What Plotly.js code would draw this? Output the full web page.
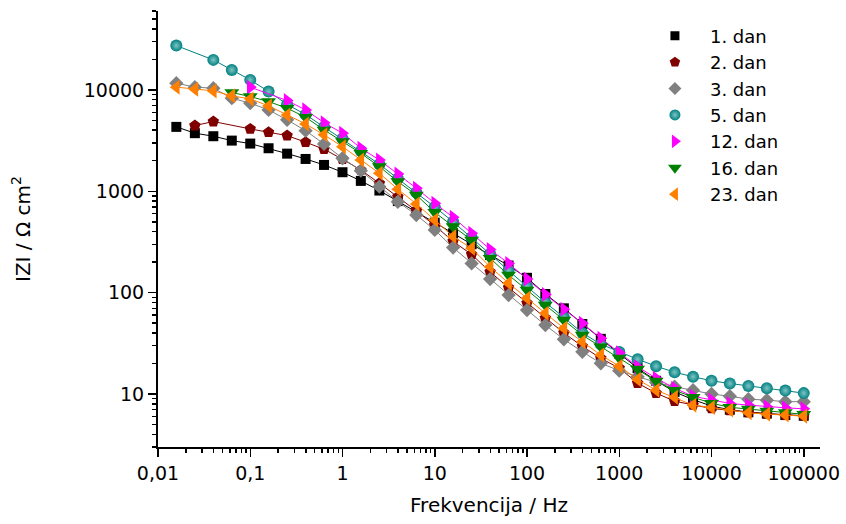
<!DOCTYPE html>
<html><head><meta charset="utf-8">
<script src="https://cdn.plot.ly/plotly-3.0.1.min.js"></script>
<style>html,body{margin:0;padding:0;background:#fff}#chart{width:846px;height:524px}</style>
</head><body><div id="chart"></div>
<script>
// Frequencies (Hz), 5 points per decade
const freq = [0.0158, 0.0251, 0.0398, 0.0631, 0.1, 0.158, 0.251, 0.398, 0.631, 1,
  1.58, 2.51, 3.98, 6.31, 10, 15.8, 25.1, 39.8, 63.1, 100,
  158, 251, 398, 631, 1000, 1580, 2510, 3980, 6310, 10000,
  15800, 25100, 39800, 63100, 100000];

// |Z| values (ohm cm^2) per day
const day1 = [4315, 3740, 3490, 3160, 2953, 2656, 2350, 2083, 1818, 1541,
  1265, 1016, 800, 625, 490, 385, 300, 235, 185, 140,
  97, 70, 49, 35, 25, 18, 13.5, 10.5, 8.8, 7.6,
  7.0, 6.6, 6.4, 6.2, 6.1];
const day2 = [null, 4450, 4870, null, 4120, 3820, 3540, 3050, 2600, 2070,
  1620, 1200, 880, 640, 460, 320, 238, 160, 112, 79,
  56, 40, 29.5, 22.5, 18.0, 12.8, 10.2, 8.5, 7.8, 7.2,
  6.9, 6.6, 6.4, 6.2, 6.1];
const day3 = [11650, 10640, 10400, 8280, 7390, 6350, 5060, 3960, 2930, 2117,
  1597, 1109, 788, 583, 415, 278, 194, 136, 94.6, 67.3,
  47.9, 34.6, 26.1, 20.1, 17.0, 14.8, 13.0, 11.8, 10.9, 10.0,
  9.5, 8.9, 8.7, 8.4, 8.4];
const day5 = [27370, null, 19770, 15740, 12550, 9620, 7200, 5700, 4300, 3300,
  2500, 1850, 1330, 970, 700, 500, 350, 240, 165, 115,
  80, 57, 40, 31, 25.9, 22.0, 18.8, 16.4, 14.8, 13.5,
  12.7, 12.0, 11.4, 10.8, 10.2];
const day12 = [null, null, null, null, 10640, null, 7840, 6350, 4750, 3740,
  2657, 2037, 1483, 1071, 762, 553, 385, 267, 194, 136,
  96, 68.4, 49.8, 35.4, 25.5, 18.6, 14.3, 11.4, 9.5, 8.7,
  8.07, 7.77, 7.48, 7.31, 7.14];
const day16 = [null, null, null, 9420, 8590, 7670, 6600, 5370, 4030, 3090,
  2370, 1750, 1245, 919, 620, 450, 331, 218, 149, 106,
  75.5, 53.7, 38.1, 29.2, 22.6, 17.6, 13.4, 10.9, 9.3, 8.1,
  7.4, 7.1, 6.8, 6.55, 6.3];
const day23 = [10640, 10160, 9775, 8727, 8150, 6950, 5665, 4615, 3600, 2755,
  2037, 1506, 1047, 750, 521, 357, 274, 180, 124, 87.9,
  62.5, 44.5, 32.8, 24.2, 18.8, 13.9, 10.9, 9.27, 7.76, 7.37,
  6.94, 6.52, 6.33, 6.19, 6.05];

const seriesNames = ['1. dan', '2. dan', '3. dan', '5. dan', '12. dan', '16. dan', '23. dan'];
const xTickVals = [0.01, 0.1, 1, 10, 100, 1000, 10000, 100000];
const xTickText = ['0,01', '0,1', '1', '10', '100', '1000', '10000', '100000'];
const yTickVals = [10, 100, 1000, 10000];
const yTickText = ['10', '100', '1000', '10000'];

// styles
const seriesData = [day1, day2, day3, day5, day12, day16, day23];
const colors = ['#000000', '#800000', '#808080', '#008080', '#ff00ff', '#008000', '#ff8000'];
const symbols = ['square', 'pentagon', 'diamond', 'circle', 'triangle-right', 'triangle-down', 'triangle-left'];
const sizes = [10, 12, 11, 12, 13, 13, 13];

const traces = [];
seriesData.forEach((vals, i) => {
  traces.push({
    x: freq, y: vals, type: 'scatter', mode: 'lines+markers', connectgaps: true,
    name: seriesNames[i], showlegend: false,
    line: {color: colors[i], width: 1},
    marker: {symbol: symbols[i], size: sizes[i], color: colors[i],
      gradient: i === 3 ? {type: 'radial', color: '#7fc4c4'} : undefined}
  });
});
seriesNames.forEach((nm, i) => {
  traces.push({
    x: [null], y: [null], type: 'scatter', mode: 'markers', name: nm, showlegend: true,
    marker: {symbol: symbols[i], size: sizes[i] - 1, color: colors[i],
      gradient: i === 3 ? {type: 'radial', color: '#7fc4c4'} : undefined}
  });
});

const xMinor = [], yMinor = [];
for (let d = -2; d <= 5; d++) for (let m = 2; m <= 9; m++) { const v = m * Math.pow(10, d); if (v < 1.5e5) xMinor.push(v); }
for (let d = 0; d <= 4; d++) for (let m = 2; m <= 9; m++) { const v = m * Math.pow(10, d); if (v >= 3 && v <= 60000) yMinor.push(v); }

const axisCommon = {
  type: 'log', tickmode: 'array', ticks: 'outside', ticklen: 8, tickwidth: 1.5, tickcolor: '#000',
  showline: true, linecolor: '#000', linewidth: 2, showgrid: false, zeroline: false, automargin: false,
  tickfont: {family: 'DejaVu Sans', size: 19, color: '#000'}
};

const layout = {
  width: 846, height: 524,
  margin: {l: 158, r: 26, t: 11, b: 77},
  paper_bgcolor: '#ffffff', plot_bgcolor: '#ffffff',
  font: {family: 'DejaVu Sans', size: 19, color: '#000'},
  showlegend: true,
  legend: {x: 0.728, y: 0.985, xanchor: 'left', yanchor: 'top', bgcolor: 'rgba(0,0,0,0)',
    itemwidth: 60,
    font: {family: 'DejaVu Sans', size: 18, color: '#000'}},
  xaxis: Object.assign({}, axisCommon, {
    range: [-2, Math.log10(1.5e5)], tickvals: xTickVals, ticktext: xTickText,
    minor: {tickmode: 'array', tickvals: xMinor, ticks: 'outside', ticklen: 4, tickwidth: 1.5, tickcolor: '#000', showgrid: false},
    title: {text: 'Frekvencija / Hz', font: {family: 'DejaVu Sans', size: 20, color: '#000'}, standoff: 15}
  }),
  yaxis: Object.assign({}, axisCommon, {
    range: [Math.log10(3), Math.log10(60000)], tickvals: yTickVals, ticktext: yTickText,
    minor: {tickmode: 'array', tickvals: yMinor, ticks: 'outside', ticklen: 4, tickwidth: 1.5, tickcolor: '#000', showgrid: false},
    title: {text: 'IZI / Ω cm<sup>2</sup>', font: {family: 'DejaVu Sans', size: 20, color: '#000'}, standoff: 48}
  })
};

Plotly.newPlot('chart', traces, layout, {staticPlot: true, displayModeBar: false});
</script>
</body></html>
